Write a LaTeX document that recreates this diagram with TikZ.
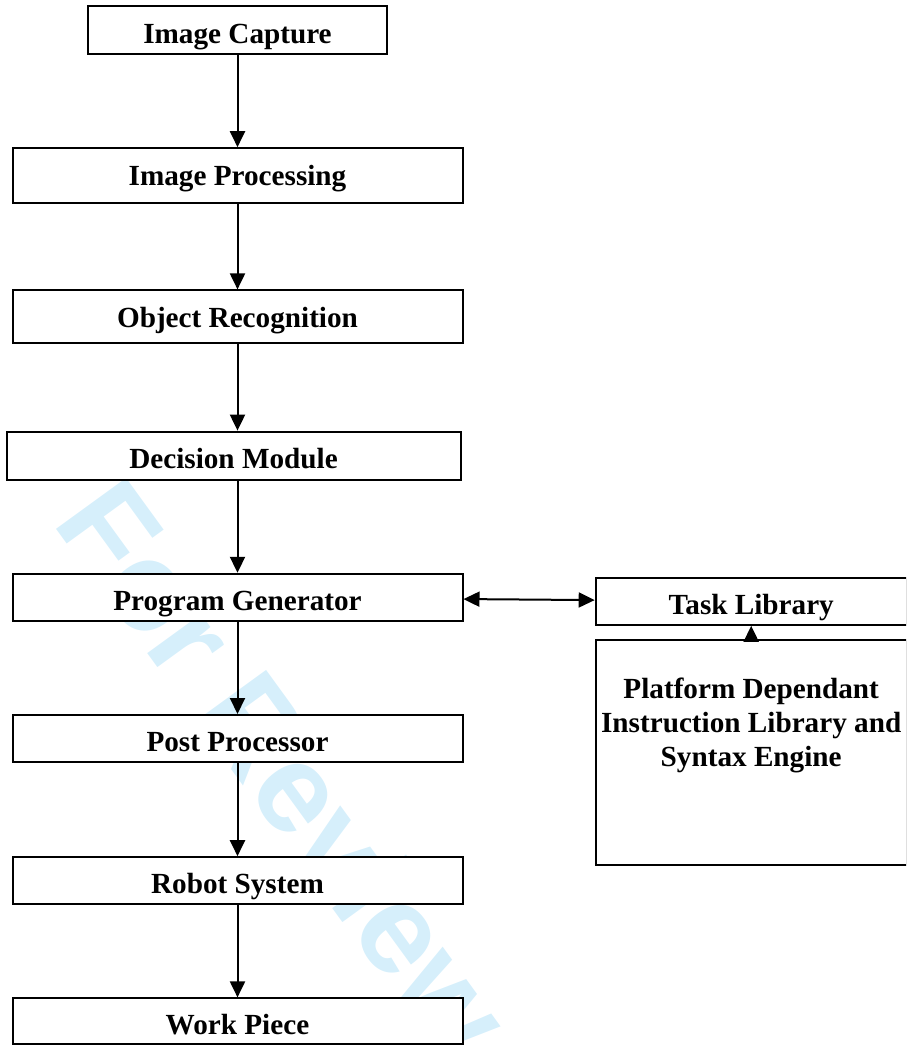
\documentclass[tikz,border=0pt]{standalone}
\usepackage{fontspec}
\setmainfont{Liberation Serif}
\newfontfamily\markfont{Liberation Sans}
\usepackage{tikz}
\usetikzlibrary{positioning, arrows.meta}
\definecolor{reviewblue}{RGB}{214,239,251}

\begin{document}
\begin{tikzpicture}[node distance=46.1pt, font=\fontsize{14.6}{17}\selectfont\bfseries]
\tikzstyle{process} = [rectangle, minimum width=225pt, minimum height=23.5pt, text height=13.5pt, text depth=0.5pt, inner sep=0pt, draw=black, line width=1pt, fill=white]
\tikzstyle{library} = [process, minimum width=155.5pt]
\tikzstyle{arrow}=[draw, line width=1pt, -{Triangle[length=8pt, width=7.5pt]}]
\tikzstyle{both}=[arrow, {Triangle[length=8pt, width=7.5pt]}-{Triangle[length=8pt, width=7.5pt]}]

\useasboundingbox (0,0) rectangle (453pt,-522.5pt);
\clip (0,0) rectangle (453pt,-522.5pt);

% watermark
\node (review) [rotate=-54, text=reviewblue, font=\markfont\bfseries\fontsize{63}{63}\selectfont] at (142.9pt,-383.8pt) {For Review};

\node (capture) [process, minimum width=149.5pt, minimum height=24pt] at (118.75pt,-15pt) {Image Capture};
\node (processing) [process, minimum height=27.5pt, text height=10pt, below=of capture] {Image Processing};
\node (recognition) [process, minimum height=26.5pt, text height=11pt, below=42.6pt of processing] {Object Recognition};
\node (decision) [process, minimum width=227pt, minimum height=24pt, below=43.1pt of recognition, xshift=-2pt] {Decision Module};
\node (generator) [process, below=of decision, xshift=2pt] {Program Generator};
\node (postproc) [process, below=of generator] {Post Processor};
\node (robot) [process, below=46.6pt of postproc] {Robot System};
\node (workpiece) [process, minimum height=23pt, below=of robot] {Work Piece};

\node (tasklib) [library, right=65.6pt of generator, yshift=-2pt] {Task Library};
\node (platform) [rectangle, draw=black, line width=1pt, minimum width=155.7pt, minimum height=112.3pt, below=6.8pt of tasklib,
  label={[name=platformtext, anchor=north, align=center, yshift=-15.5pt]north:{Platform Dependant\\Instruction Library and\\Syntax Engine}}] {};

\draw [arrow] (capture) -- (processing);
\draw [arrow] (processing) -- (recognition);
\draw [arrow] (recognition) -- (recognition |- decision.north);
\draw [arrow] (decision.south -| generator) -- (generator);
\draw [arrow] (generator) -- (postproc);
\draw [arrow] (postproc) -- (robot);
\draw [arrow] (robot) -- (workpiece);

\draw [both] (generator) -- (tasklib);
\draw [arrow] (platform) -- (tasklib);

\end{tikzpicture}
\end{document}
